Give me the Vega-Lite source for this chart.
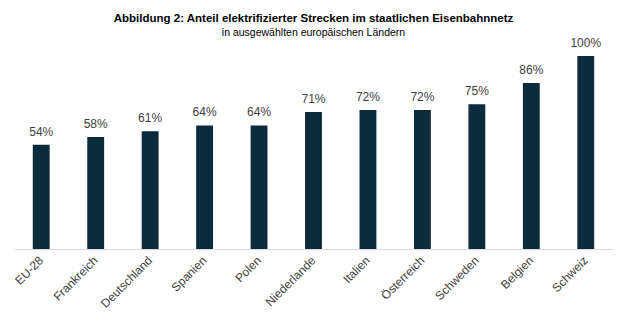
{
  "$schema": "https://vega.github.io/schema/vega-lite/v6.json",
  "width": 599,
  "height": 193,
  "autosize": "none",
  "padding": {"left": 14, "top": 56, "right": 14, "bottom": 74},
  "background": "white",
  "title": {
    "text": "Abbildung 2: Anteil elektrifizierter Strecken im staatlichen Eisenbahnnetz",
    "subtitle": "in ausgewählten europäischen Ländern",
    "anchor": "middle",
    "font": "Liberation Sans, Arial",
    "fontSize": 11.5,
    "fontWeight": "bold",
    "color": "#000000",
    "subtitleFont": "Liberation Sans, Arial",
    "subtitleFontSize": 10.5,
    "subtitleColor": "#000000",
    "subtitlePadding": 3,
    "offset": -1
  },
  "config": {"view": {"stroke": null}},
  "data": {
    "values": [
      {"land": "EU-28", "anteil": 0.54},
      {"land": "Frankreich", "anteil": 0.58},
      {"land": "Deutschland", "anteil": 0.61},
      {"land": "Spanien", "anteil": 0.64},
      {"land": "Polen", "anteil": 0.64},
      {"land": "Niederlande", "anteil": 0.71},
      {"land": "Italien", "anteil": 0.72},
      {"land": "Österreich", "anteil": 0.72},
      {"land": "Schweden", "anteil": 0.75},
      {"land": "Belgien", "anteil": 0.86},
      {"land": "Schweiz", "anteil": 1.0}
    ]
  },
  "encoding": {
    "x": {
      "field": "land",
      "type": "nominal",
      "sort": null,
      "scale": {"paddingInner": 0.69, "paddingOuter": 0.345},
      "axis": {
        "title": null,
        "labelAngle": -45,
        "labelAlign": "right",
        "labelBaseline": "middle",
        "labelFont": "Liberation Sans, Arial",
        "labelFontSize": 12,
        "labelColor": "#404040",
        "labelPadding": 9,
        "ticks": false,
        "domainColor": "#d9d9d9",
        "domainWidth": 1,
        "grid": false
      }
    },
    "y": {
      "field": "anteil",
      "type": "quantitative",
      "scale": {"domain": [0, 1], "nice": false},
      "axis": null
    }
  },
  "layer": [
    {"mark": {"type": "bar", "color": "#0c2b3d"}},
    {
      "mark": {"type": "text", "dy": -6, "baseline": "bottom", "font": "Liberation Sans, Arial", "fontSize": 12, "color": "#404040"},
      "encoding": {"text": {"field": "anteil", "type": "quantitative", "format": ".0%"}}
    }
  ]
}
